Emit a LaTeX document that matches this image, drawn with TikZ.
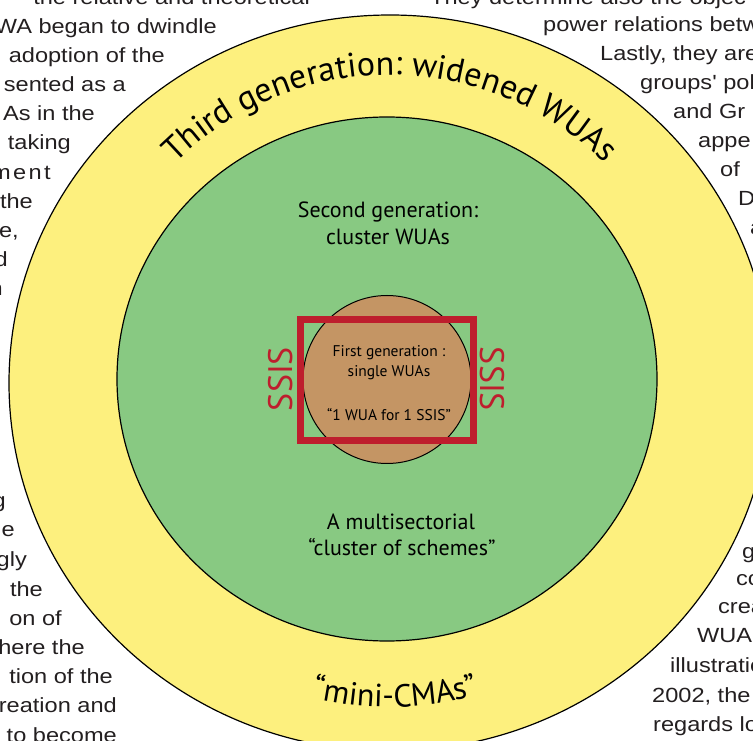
\documentclass[tikz,border=0pt]{standalone}
\usepackage{fontspec}
\setmainfont{Liberation Sans}
\newfontfamily\diagfont{PT Sans}
\newfontfamily\bodyfont[FakeStretch=1.15]{Liberation Sans}
\usetikzlibrary{decorations.text}
\definecolor{wyellow}{RGB}{253,240,126}
\definecolor{wgreen}{RGB}{136,201,130}
\definecolor{wbrown}{RGB}{196,149,100}
\definecolor{wred}{RGB}{190,30,45}
\definecolor{bodygray}{RGB}{35,31,32}
\begin{document}
\begin{tikzpicture}[x=1pt,y=1pt,
  body/.style={font=\bodyfont\fontsize{20.5}{24}\selectfont, text=bodygray, inner sep=0pt},
  lbody/.style={body, anchor=base east},
  rbody/.style={body, anchor=base west},
  ring/.style={draw=black, line width=1.2pt},
  lab/.style={font=\diagfont\fontsize{22}{26}\selectfont, anchor=base, inner sep=0pt},
  smalllab/.style={font=\diagfont\fontsize{15.5}{18}\selectfont, anchor=base, inner sep=0pt},
  ssis/.style={font=\diagfont\fontsize{34}{34}\selectfont, text=wred, inner sep=0pt}]
\useasboundingbox (0,0) rectangle (753,740);
% background body text, left column
\node[lbody] (l1) at (310,735) {the relative and theoretical};
\node[lbody] (l2) at (217,706) {WA began to dwindle};
\node[lbody] (l3) at (165,677) {adoption of the};
\node[lbody] (l4) at (126,648) {sented as a};
\node[lbody] (l5) at (95,619) {As in the};
\node[lbody] (l6) at (71,590) {taking};
\node[lbody] (l7) at (51,560) {\addfontfeatures{LetterSpace=12}ment};
\node[lbody] (l8) at (33,531) {the};
\node[lbody] (l9) at (19,502) {e,};
\node[lbody] (l10) at (8,473) {d};
\node[lbody] (l11) at (3,444) {n};
\node[lbody] (lb1) at (6,232) {g};
\node[lbody] (lb2) at (15,203) {le};
\node[lbody] (lb3) at (27,174) {gly};
\node[lbody] (lb4) at (43,144) {the};
\node[lbody] (lb5) at (62,115) {on of};
\node[lbody] (lb6) at (85,86) {here the};
\node[lbody] (lb7) at (113,57) {tion of the};
\node[lbody] (lb8) at (117,28) {reation and};
\node[lbody] (lb9) at (117,-2) {to become};
% background body text, right column
\node[rbody] (r1) at (430,735) {They determine also the objec};
\node[rbody] (r2) at (543,708) {power relations betw};
\node[rbody] (r3) at (600,679) {Lastly, they are};
\node[rbody] (r4) at (640,650) {groups' pol};
\node[rbody] (r5) at (673,621) {and Gr};
\node[rbody] (r6) at (698,592) {appe};
\node[rbody] (r7) at (720,563) {of};
\node[rbody] (r8) at (738,534) {D};
\node[rbody] (r9) at (750,505) {a};
\node[rbody] (rb1) at (742,182) {g};
\node[rbody] (rb2) at (736,155) {co};
\node[rbody] (rb3) at (718,127) {crea};
\node[rbody] (rb4) at (697,98) {WUA};
\node[rbody] (rb5) at (670,68) {illustratio};
\node[rbody] (rb6) at (652,38) {2002, the};
\node[rbody] (rb7) at (653,9) {regards lo};
% rings
\path[ring, fill=wyellow] (390,357) ellipse [x radius=381, y radius=368];
\path[ring, fill=wgreen] (387,361) ellipse [x radius=270, y radius=262];
\path[draw=black, line width=1pt, fill=wbrown] (387,360.5) circle [radius=84];
\draw[wred, line width=7pt] (300.5,299.5) rectangle (473.5,420.5);
% curved labels
\path[decorate, decoration={text along path, text align=center,
  text={|\diagfont\fontsize{34}{34}\selectfont|Third generation: widened WUAs}}]
  (390,360) ++(150:305) arc[start angle=150, end angle=30, radius=305];
\path[decorate, decoration={text along path, text align=center,
  text={|\diagfont\fontsize{32}{32}\selectfont|“mini-CMAs”}}]
  (390,360) ++(245:327) arc[start angle=245, end angle=297, radius=327];
% labels
\node[lab] (sec1) at (388,522) {Second generation:};
\node[lab] (sec2) at (388,495) {cluster WUAs};
\node[lab] (mul1) at (401,210) {A multisectorial};
\node[lab] (mul2) at (402,184) {“cluster of schemes”};
\node[smalllab] (fir1) at (389,383) {First generation :};
\node[smalllab] (fir2) at (389,363) {single WUAs};
\node[smalllab] (fir3) at (389,319) {“1 WUA for 1 SSIS”};
\node[ssis, rotate=90] (ssisL) at (280.5,361) {SSIS};
\node[ssis, rotate=-90] (ssisR) at (492.5,361) {SSIS};
\end{tikzpicture}
\end{document}
